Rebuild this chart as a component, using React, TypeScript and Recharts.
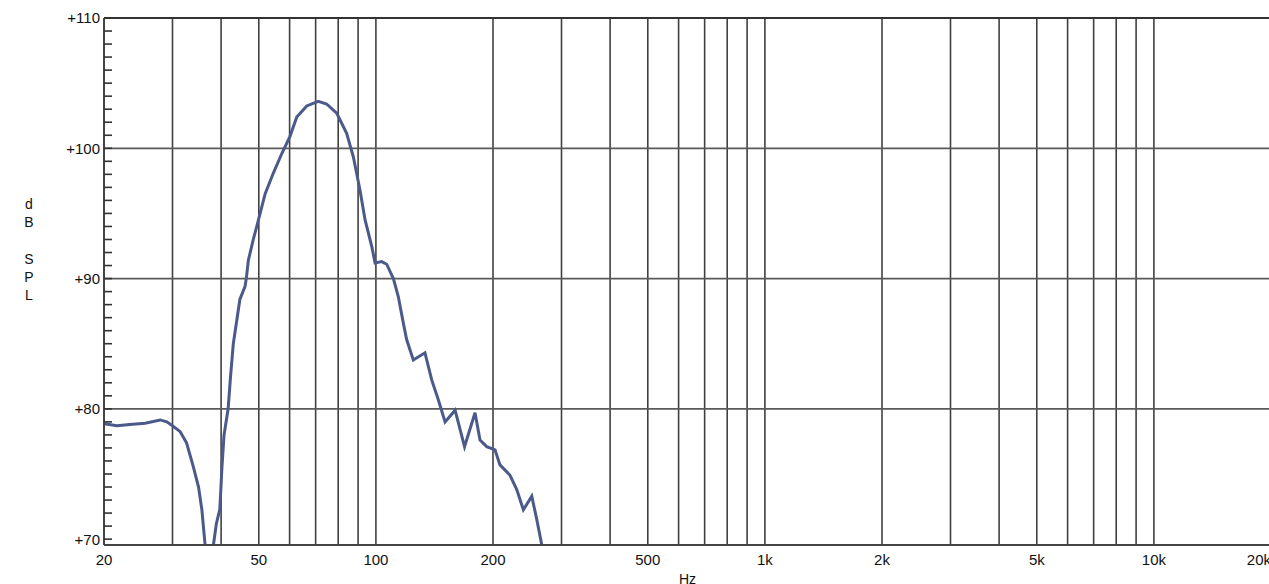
import React from "react";
import { LineChart, Line, XAxis, YAxis, ReferenceLine } from "recharts";

// frequency response (Hz / dB SPL)
const FREQ = [
  20, 21.6, 23.3, 25.5, 27.9, 29.0, 30.0, 31.4, 32.6, 33.9, 35.0, 35.7, 36.4,
  37.3, 38.2, 38.9, 39.7, 40.2, 40.7, 41.7, 42.3, 43.0, 44.7, 46.1, 46.5, 47.0,
  48.4, 49.9, 51.9, 54.5, 57.3, 60.1, 62.6, 66.4, 71.1, 74.7, 79.3, 84.1, 87.5,
  91.0, 93.8, 97.6, 99.5, 103.5, 106.6, 110.9, 114.2, 117.6, 120.0, 124.8,
  133.7, 139.2, 144.7, 150.6, 159.8, 169.0, 179.8, 185.2, 192.7, 202.4, 208.4,
  221.2, 230.2, 239.4, 251.6, 259.2, 267.0, 275,
];
const SPL = [
  78.85, 78.7, 78.8, 78.9, 79.15, 79.0, 78.7, 78.25, 77.4, 75.6, 74.0, 72.25,
  69.5, 66.5, 69.5, 71.2, 72.3, 75.5, 78.0, 80.0, 82.5, 85.0, 88.4, 89.4,
  90.15, 91.4, 93.0, 94.5, 96.5, 98.1, 99.6, 100.9, 102.4, 103.25, 103.6,
  103.4, 102.7, 101.15, 99.35, 96.8, 94.5, 92.45, 91.2, 91.3, 91.1, 90.0, 88.6,
  86.6, 85.3, 83.75, 84.3, 82.2, 80.7, 79.0, 79.9, 77.1, 79.7, 77.6, 77.1,
  76.85, 75.7, 74.9, 73.8, 72.25, 73.3, 71.5, 69.55, 67.5,
];

const X_TICKS = [20, 50, 100, 200, 500, 1000, 2000, 5000, 10000, 20000];
const X_TICK_LABELS = ["20", "50", "100", "200", "500", "1k", "2k", "5k", "10k", "20k"];
const GRID_FREQS = [
  30, 40, 50, 60, 70, 80, 90, 100, 200, 300, 400, 500, 600, 700, 800, 900,
  1000, 2000, 3000, 4000, 5000, 6000, 7000, 8000, 9000, 10000,
];
const Y_GRID = [80, 90, 100, 110];
const Y_TICKS = Array.from({ length: 41 }, (_, i) => 70 + i);

const data = FREQ.map((f, i) => ({ f, spl: SPL[i] }));

const FONT = "'Liberation Sans', Arial, sans-serif";
const TEXT = "#111";

function XTick(props: any) {
  const { x, y, payload, index } = props;
  const last = index === X_TICKS.length - 1;
  return (
    <text
      x={x}
      y={y}
      dy="0.71em"
      textAnchor={last ? "end" : "middle"}
      fontSize={15}
      fontFamily={FONT}
      fill={TEXT}
    >
      {X_TICK_LABELS[X_TICKS.indexOf(payload.value)]}
    </text>
  );
}

function YTick(props: any) {
  const { x, y, payload } = props;
  const v = payload.value;
  const major = v % 10 === 0;
  return (
    <g>
      <line x1={x} x2={x + 8} y1={y} y2={y} stroke="#333" strokeWidth={1.6} />
      {major && (
        <text
          x={x - 4}
          y={y}
          dy="0.36em"
          textAnchor="end"
          fontSize={15}
          fontFamily={FONT}
          fill={TEXT}
        >
          +{v}
        </text>
      )}
    </g>
  );
}

function DbSplLabel(props: any) {
  const vb = props.viewBox || { x: 0, y: 18 };
  const letters = ["d", "B", "", "S", "P", "L"];
  return (
    <text
      x={29}
      y={vb.y + 186}
      textAnchor="middle"
      fontSize={14}
      fontFamily={FONT}
      fill={TEXT}
    >
      {letters.map((l, i) => (
        <tspan key={i} x={29} y={vb.y + 186 + i * 18.2} dy="0.36em">
          {l}
        </tspan>
      ))}
    </text>
  );
}

export default function App() {
  return (
    <div
      style={{
        position: "fixed",
        left: 0,
        top: 0,
        width: 1269,
        height: 584,
        overflow: "hidden",
        background: "#fff",
      }}
    >
      <LineChart
        width={1290}
        height={584}
        data={data}
        margin={{ top: 18, right: 19, bottom: 0, left: 0 }}
      >
        <XAxis
          dataKey="f"
          type="number"
          scale="log"
          domain={[20, 20000]}
          allowDataOverflow
          ticks={X_TICKS}
          interval={0}
          tickLine={false}
          tickSize={0}
          tickMargin={9}
          height={39}
          axisLine={{ stroke: "#444", strokeWidth: 2 }}
          tick={<XTick />}
          label={{
            value: "Hz",
            position: "insideBottom",
            offset: 0,
            fill: TEXT,
            fontSize: 14,
            fontFamily: FONT,
          }}
        />
        <YAxis
          type="number"
          domain={[69.55, 110]}
          allowDataOverflow
          ticks={Y_TICKS}
          interval={0}
          width={104}
          tickLine={false}
          tickSize={0}
          tickMargin={0}
          axisLine={{ stroke: "#444", strokeWidth: 2 }}
          tick={<YTick />}
          label={{ content: <DbSplLabel /> }}
        />
        {GRID_FREQS.map((f) => (
          <ReferenceLine key={`v${f}`} x={f} stroke="#404040" strokeWidth={1.6} />
        ))}
        {Y_GRID.map((v) => (
          <ReferenceLine
            key={`h${v}`}
            y={v}
            stroke={v === 110 ? "#333" : "#5a5a5a"}
            strokeWidth={v === 110 ? 2 : 1.8}
          />
        ))}
        <Line
          dataKey="spl"
          type="linear"
          stroke="#4a5a8a"
          strokeWidth={3}
          dot={false}
          isAnimationActive={false}
        />
      </LineChart>
    </div>
  );
}
